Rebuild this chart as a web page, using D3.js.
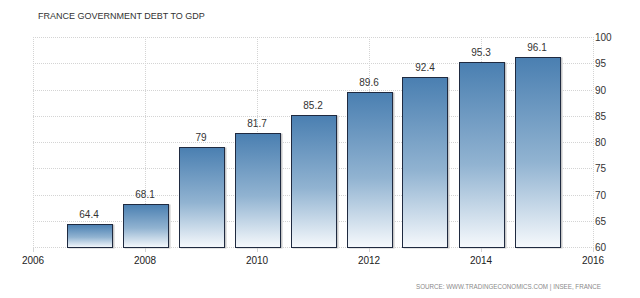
<!DOCTYPE html>
<html>
<head>
<meta charset="utf-8">
<script src="https://cdn.jsdelivr.net/npm/d3@7"></script>
<style>
    body { margin: 0; background: #fff; }
    svg text { font-family: "Liberation Sans", Arial, sans-serif; }
</style>
</head>
<body>
<div id="chart"></div>
<script>
var years = [2007, 2008, 2009, 2010, 2011, 2012, 2013, 2014, 2015];
var debt_values = [64.4, 68.1, 79, 81.7, 85.2, 89.6, 92.4, 95.3, 96.1];
var y_ticks = [60, 65, 70, 75, 80, 85, 90, 95, 100];
var x_ticks = [2006, 2008, 2010, 2012, 2014, 2016];
var title_text = 'FRANCE GOVERNMENT DEBT TO GDP';
var source_text = 'SOURCE: WWW.TRADINGECONOMICS.COM | INSEE, FRANCE';

let width = 640, height = 298;
let margin = {top: 37, right: 47, bottom: 51, left: 33};

let svg = d3.select('#chart')
    .append('svg')
    .attr('width', width)
    .attr('height', height);

let x_scale = d3.scaleLinear()
    .domain([2006, 2016])
    .range([margin.left, width - margin.right]);

let y_scale = d3.scaleLinear()
    .domain([60, 100])
    .range([height - margin.bottom, margin.top]);

let bar_width = 45;

// gradient for the bars
let grad = svg.append('defs').append('linearGradient')
    .attr('id', 'bar-grad')
    .attr('x1', 0).attr('y1', 0)
    .attr('x2', 0).attr('y2', 1);
grad.append('stop').attr('offset', '0%').attr('stop-color', '#4a7fb1');
grad.append('stop').attr('offset', '55%').attr('stop-color', '#91b3d1');
grad.append('stop').attr('offset', '100%').attr('stop-color', '#f6f9fc');

// grid
svg.append('g')
    .selectAll('line')
    .data(y_ticks)
    .enter().append('line')
    .attr('x1', margin.left)
    .attr('x2', width - margin.right)
    .attr('y1', function(d) { return Math.round(y_scale(d)) + 0.5; })
    .attr('y2', function(d) { return Math.round(y_scale(d)) + 0.5; })
    .attr('stroke', '#d4d4d4')
    .attr('stroke-dasharray', '1,1');

svg.append('g')
    .selectAll('line')
    .data(x_ticks)
    .enter().append('line')
    .attr('x1', function(d) { return Math.round(x_scale(d)) + 0.5; })
    .attr('x2', function(d) { return Math.round(x_scale(d)) + 0.5; })
    .attr('y1', margin.top)
    .attr('y2', height - margin.bottom)
    .attr('stroke', '#d4d4d4')
    .attr('stroke-dasharray', '1,1');

// small tick marks under the axis
svg.append('g')
    .selectAll('line')
    .data(x_ticks)
    .enter().append('line')
    .attr('x1', function(d) { return Math.round(x_scale(d)) + 0.5; })
    .attr('x2', function(d) { return Math.round(x_scale(d)) + 0.5; })
    .attr('y1', height - margin.bottom)
    .attr('y2', height - margin.bottom + 5)
    .attr('stroke', '#d4d4d4');

// bars: shadow then body
let bars = svg.append('g');
bars.selectAll('.shadow')
    .data(years)
    .enter().append('rect')
    .attr('class', 'shadow')
    .attr('x', function(d) { return Math.round(x_scale(d) - bar_width / 2) + 1.5; })
    .attr('y', function(d, i) { return Math.round(y_scale(debt_values[i])) + 0.5; })
    .attr('width', bar_width + 1)
    .attr('height', function(d, i) { return Math.round(y_scale(60)) - Math.round(y_scale(debt_values[i])) + 1; })
    .attr('fill', '#c8c8c8');

bars.selectAll('.bar')
    .data(years)
    .enter().append('rect')
    .attr('class', 'bar')
    .attr('x', function(d) { return Math.round(x_scale(d) - bar_width / 2) + 0.5; })
    .attr('y', function(d, i) { return Math.round(y_scale(debt_values[i])) + 0.5; })
    .attr('width', bar_width)
    .attr('height', function(d, i) { return Math.round(y_scale(60)) - Math.round(y_scale(debt_values[i])); })
    .attr('fill', 'url(#bar-grad)')
    .attr('stroke', '#1f2a40')
    .attr('stroke-width', 1);

// value labels
svg.append('g')
    .selectAll('text')
    .data(years)
    .enter().append('text')
    .attr('x', function(d) { return x_scale(d); })
    .attr('y', function(d, i) { return y_scale(debt_values[i]) - 6; })
    .attr('text-anchor', 'middle')
    .attr('font-size', '10px')
    .attr('fill', '#333')
    .text(function(d, i) { return debt_values[i]; });

// right y labels
svg.append('g')
    .selectAll('text')
    .data(y_ticks)
    .enter().append('text')
    .attr('x', width - margin.right + 2)
    .attr('y', function(d) { return y_scale(d) + 4; })
    .attr('font-size', '10px')
    .attr('fill', '#333')
    .text(function(d) { return d; });

// x labels
svg.append('g')
    .selectAll('text')
    .data(x_ticks)
    .enter().append('text')
    .attr('x', function(d) { return x_scale(d); })
    .attr('y', height - margin.bottom + 17)
    .attr('text-anchor', 'middle')
    .attr('font-size', '10px')
    .attr('fill', '#222')
    .text(function(d) { return d; });

svg.append('text')
    .attr('x', 38)
    .attr('y', 19)
    .attr('font-size', '9px')
    .attr('fill', '#333')
    .text(title_text);

// source line, squeezed to the width it has in the original
svg.append('text')
    .attr('x', 416)
    .attr('y', 289)
    .attr('font-size', '7.5px')
    .attr('fill', '#8a8a8a')
    .attr('textLength', 185)
    .attr('lengthAdjust', 'spacingAndGlyphs')
    .text(source_text);
</script>
</body>
</html>
